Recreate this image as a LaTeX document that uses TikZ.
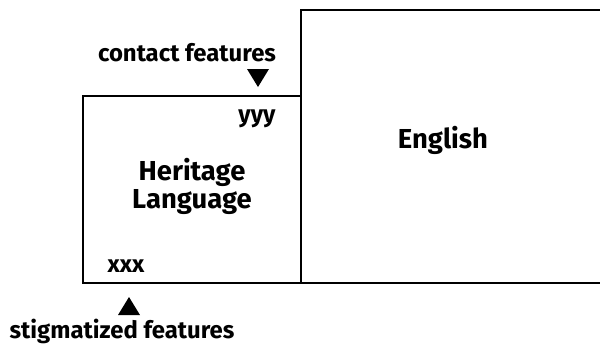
\documentclass[tikz,border=0pt]{standalone}
\usepackage{fontspec}
\setmainfont{Fira Sans}
\usetikzlibrary{positioning}

\tikzset{
  box/.style={draw, line width=1.1pt, inner sep=0pt},
  lbl/.style={font=\bfseries\fontsize{17}{19}\selectfont, inner sep=0pt},
  big/.style={font=\bfseries\fontsize{19.5}{20}\selectfont, align=center, inner sep=0pt},
  marker/.style={fill=black}
}

\begin{document}
\begin{tikzpicture}[x=0.025cm, y=-0.025cm]
\useasboundingbox (0,0) rectangle (600,350);

% the two language boxes
\draw[box] (301,10) rectangle (603,283);
\draw[box] (83,96) rectangle (301,283);

\node[big] (eng) at (443,140) {English};
\node[big] (her) at (192,186) {Heritage\\Language};

\node[lbl] (yyy) at (257,119) {yyy};
\node[lbl] (xxx) at (126,266) {xxx};

% contact features on top
\node[lbl] (contact) at (187,53) {contact features};
\coordinate (cmark) at (258,78);
\fill[marker] ([shift={(-11,-9)}]cmark) -- ([shift={(11,-9)}]cmark) -- ([shift={(0,9)}]cmark) -- cycle;

% stigmatized features below
\coordinate (smark) at (129,306);
\fill[marker] ([shift={(-11,9)}]smark) -- ([shift={(11,9)}]smark) -- ([shift={(0,-9)}]smark) -- cycle;
\node[lbl] (stig) at (122,331) {stigmatized features};
\end{tikzpicture}
\end{document}
